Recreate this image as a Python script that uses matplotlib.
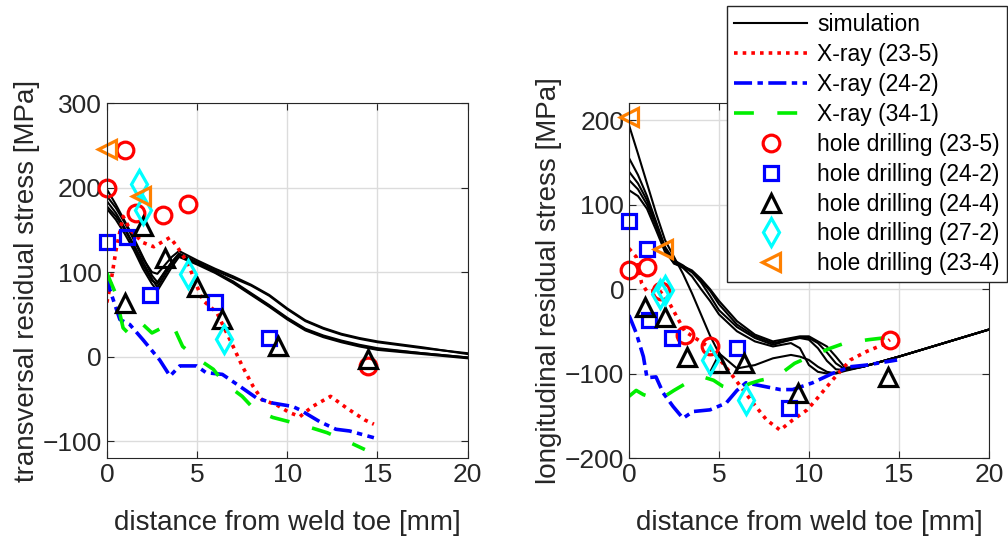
import matplotlib.pyplot as plt

plt.rcParams['font.family'] = ['Liberation Sans', 'DejaVu Sans']

# ---------------- transversal (left) ----------------
sim_x_t = [0, 0.5, 1.0, 1.5, 2.0, 2.5, 2.8, 3.2, 3.6, 4.0, 5.0, 6.0, 7.0, 8.0, 9.0,
           10.0, 11.0, 12.0, 13.0, 14.0, 15.0, 17.5, 20.0]
sim_t = [
    [198, 180, 160, 140, 118, 96, 88, 100, 112, 122, 112, 102, 93, 84, 72, 56, 42, 33, 26, 21, 17, 10, 4],
    [190, 176, 158, 138, 116, 100, 98, 108, 118, 125, 114, 104, 95, 85, 73, 57, 43, 34, 27, 22, 18, 11, 3],
    [184, 170, 152, 132, 112, 92, 82, 96, 110, 120, 110, 100, 88, 74, 60, 45, 32, 24, 18, 13, 9, 4, -1],
    [178, 166, 150, 130, 108, 90, 86, 100, 112, 121, 111, 100, 89, 75, 61, 46, 33, 25, 19, 14, 10, 4, -1],
    [175, 162, 145, 126, 104, 86, 78, 92, 106, 118, 109, 99, 87, 73, 59, 44, 31, 23, 17, 12, 8, 3, -2],
]

xr235_x_t = [0, 0.2, 0.5, 0.9, 1.3, 2.0, 2.6, 3.5, 3.9, 4.5, 5.3, 6.1, 7.0, 7.5, 8.1,
             8.6, 9.4, 10.1, 10.7, 11.4, 12.4, 13.3, 14.3, 14.8]
xr235_y_t = [64, 85, 125, 166, 150, 135, 130, 141, 130, 110, 67, 52, 12, -11, -35,
             -51, -57, -66, -71, -59, -47, -61, -75, -80]

xr242_x_t = [0, 0.17, 0.72, 1.27, 2.0, 2.93, 3.5, 4.04, 4.97, 5.5, 6.4, 7.36, 8.3,
             9.2, 10.3, 10.7, 11.8, 12.7, 13.45, 14.8]
xr242_y_t = [98, 79, 44, 38, 20, -4, -23, -11, -11, -19, -21, -35, -49, -55, -59,
             -63, -77, -86, -88, -96]

xr341_x_t = [0, 0.44, 0.9, 1.27, 1.9, 2.5, 3.6, 4.2, 5.0, 5.9, 6.5, 7.5, 8.2, 9.2,
             10.1, 11.3, 12.2, 13.3, 14.3]
xr341_y_t = [99, 77, 34, 26, 40, 28, 40, 12, -2, -15, -31, -47, -63, -72, -77,
             -84, -90, -100, -110]

hd235_t = ([0, 1.0, 1.6, 3.1, 4.5, 14.5], [200, 244, 170, 167, 181, -11])
hd242_t = ([0, 1.1, 2.4, 6.0, 9.0], [136, 141, 73, 65, 22])
hd244_t = ([1.0, 2.0, 3.2, 5.0, 6.4, 9.5, 14.5], [64, 155, 117, 82, 44, 13, -3])
hd272_t = ([1.8, 2.0, 4.5, 6.5], [204, 173, 98, 21])
hd234_t = ([0, 1.9], [246, 190])

# ---------------- longitudinal (right) ----------------
sim_x_l = [0, 0.5, 1.0, 1.5, 2.0, 2.5, 3.0, 3.5, 4.0, 4.5, 5.0, 6.0, 7.0, 8.0, 9.0,
           9.5, 10.0, 10.5, 11.0, 11.5, 12.0, 13.0, 15.0, 17.5, 20.0]
sim_l = [
    [194, 160, 125, 90, 58, 38, 18, -5, -30, -55, -76, -94, -90, -82, -78, -80, -84, -92, -98, -100, -97, -92, -80, -64, -48],
    [155, 135, 110, 80, 50, 34, 28, 20, 8, -8, -25, -45, -58, -66, -60, -57, -58, -64, -75, -88, -95, -92, -80, -64, -48],
    [139, 125, 105, 78, 48, 32, 27, 22, 12, 0, -14, -38, -54, -62, -58, -56, -56, -62, -68, -80, -93, -92, -80, -64, -48],
    [129, 118, 100, 75, 46, 30, 26, 20, 10, -2, -18, -42, -56, -64, -60, -58, -60, -70, -85, -95, -96, -92, -80, -64, -48],
    [117, 110, 95, 70, 44, 31, 25, 15, 0, -14, -30, -50, -62, -68, -64, -70, -90, -98, -100, -99, -96, -92, -80, -64, -48],
]

xr235_x_l = [0, 0.4, 0.7, 1.0, 1.7, 2.2, 3.1, 4.4, 5.3, 5.8, 6.9, 7.65, 8.4, 9.1,
             9.9, 10.4, 11.3, 12.3, 13.2, 14.1, 14.5]
xr235_y_l = [48, 38, 7, -3, -2, -15, -50, -68, -90, -104, -135, -155, -167, -155,
             -143, -131, -108, -84, -74, -66, -60]

xr242_x_l = [0, 0.4, 0.8, 1.0, 1.5, 1.9, 2.45, 3.0, 3.55, 4.5, 5.4, 6.0, 6.5, 7.45,
             8.4, 9.1, 10.2, 11.3, 12.3, 13.2, 14.9]
xr242_y_l = [-31, -52, -80, -105, -104, -123, -139, -153, -145, -143, -135, -120,
             -111, -115, -119, -119, -111, -100, -92, -90, -84]

xr341_x_l = [0, 0.4, 0.8, 1.7, 2.5, 3.3, 4.1, 4.7, 5.2, 6.0, 6.7, 7.3, 8.2, 9.2,
             10.05, 11.2, 12.0, 13.3, 14.5]
xr341_y_l = [-127, -120, -125, -131, -120, -110, -104, -108, -115, -120, -112, -108,
             -104, -88, -80, -70, -64, -60, -57]

hd235_l = ([0, 1.0, 1.8, 3.1, 4.5, 14.5], [22, 26, -2, -54, -68, -60])
hd242_l = ([0, 1.0, 1.1, 2.4, 6.0, 8.9], [80, 47, -37, -58, -70, -141])
hd244_l = ([0.9, 2.0, 3.2, 5.0, 6.4, 9.4, 14.4], [-21, -33, -80, -88, -88, -123, -104])
hd272_l = ([1.7, 2.0, 4.5, 6.5], [-6, -1, -84, -131])
hd234_l = ([0, 1.9], [204, 47])

xticks = [0, 5, 10, 15, 20]

fig = plt.figure(figsize=(10.08, 5.41), dpi=100)
ax1 = fig.add_axes([0.106, 0.1534, 0.358, 0.656])
ax2 = fig.add_axes([0.624, 0.1534, 0.357, 0.656])

LW = 2.6
MEW = 2.3


def draw(ax, sim_x, sims, xr, hds):
    for i, ys in enumerate(sims):
        ax.plot(sim_x, ys, color='black', lw=1.5, label='simulation' if i == 0 else None)
    ax.plot(xr[0][0], xr[0][1], color='red', lw=LW, linestyle=(0, (1, 1.4)), label='X-ray (23-5)')
    ax.plot(xr[1][0], xr[1][1], color='blue', lw=LW, linestyle=(0, (5, 1.5, 1.5, 1.5)), label='X-ray (24-2)')
    ax.plot(xr[2][0], xr[2][1], color='#00ee00', lw=LW, linestyle=(0, (5.5, 6.5)), label='X-ray (34-1)')
    styles = [('o', 'red', 12, 'hole drilling (23-5)'),
              ('s', 'blue', 10, 'hole drilling (24-2)'),
              ('^', 'black', 13, 'hole drilling (24-4)'),
              ('d', 'cyan', 14, 'hole drilling (27-2)'),
              ('<', '#ff8000', 13, 'hole drilling (23-4)')]
    for (hx, hy), (m, c, ms, lab) in zip(hds, styles):
        ax.plot(hx, hy, linestyle='none', marker=m, ms=ms, mfc='none', mec=c, mew=MEW,
                label=lab, clip_on=False)
    ax.set_xlim(0, 20)
    ax.set_xticks(xticks)
    ax.grid(True, color='#dcdcdc', lw=1)
    ax.set_axisbelow(True)
    ax.tick_params(direction='in', top=True, right=True, labelsize=19, colors='#262626', length=5)
    for s in ax.spines.values():
        s.set_color('#262626')
    ax.set_xlabel('distance from weld toe [mm]', fontsize=20, color='#262626', labelpad=17)


draw(ax1, sim_x_t, sim_t,
     [(xr235_x_t, xr235_y_t), (xr242_x_t, xr242_y_t), (xr341_x_t, xr341_y_t)],
     [hd235_t, hd242_t, hd244_t, hd272_t, hd234_t])
ax1.set_ylim(-120, 300)
ax1.set_yticks([-100, 0, 100, 200, 300])
ax1.set_ylabel('transversal residual stress [MPa]', fontsize=20, color='#262626', labelpad=2)

draw(ax2, sim_x_l, sim_l,
     [(xr235_x_l, xr235_y_l), (xr242_x_l, xr242_y_l), (xr341_x_l, xr341_y_l)],
     [hd235_l, hd242_l, hd244_l, hd272_l, hd234_l])
ax2.set_ylim(-200, 220)
ax2.set_yticks([-200, -100, 0, 100, 200])
ax2.set_ylabel('longitudinal residual stress [MPa]', fontsize=20, color='#262626', labelpad=2)

handles, labels = ax2.get_legend_handles_labels()
leg = fig.legend(handles, labels, loc='upper right', bbox_to_anchor=(0.999, 0.988),
                 fontsize=16.5, labelspacing=0.3, handlelength=3.2, handletextpad=0.45,
                 borderpad=0.3, borderaxespad=0, fancybox=False, framealpha=1,
                 edgecolor='#262626')
leg.get_frame().set_linewidth(1.0)
leg.set_zorder(10)

fig.savefig('out.png', dpi=100)
